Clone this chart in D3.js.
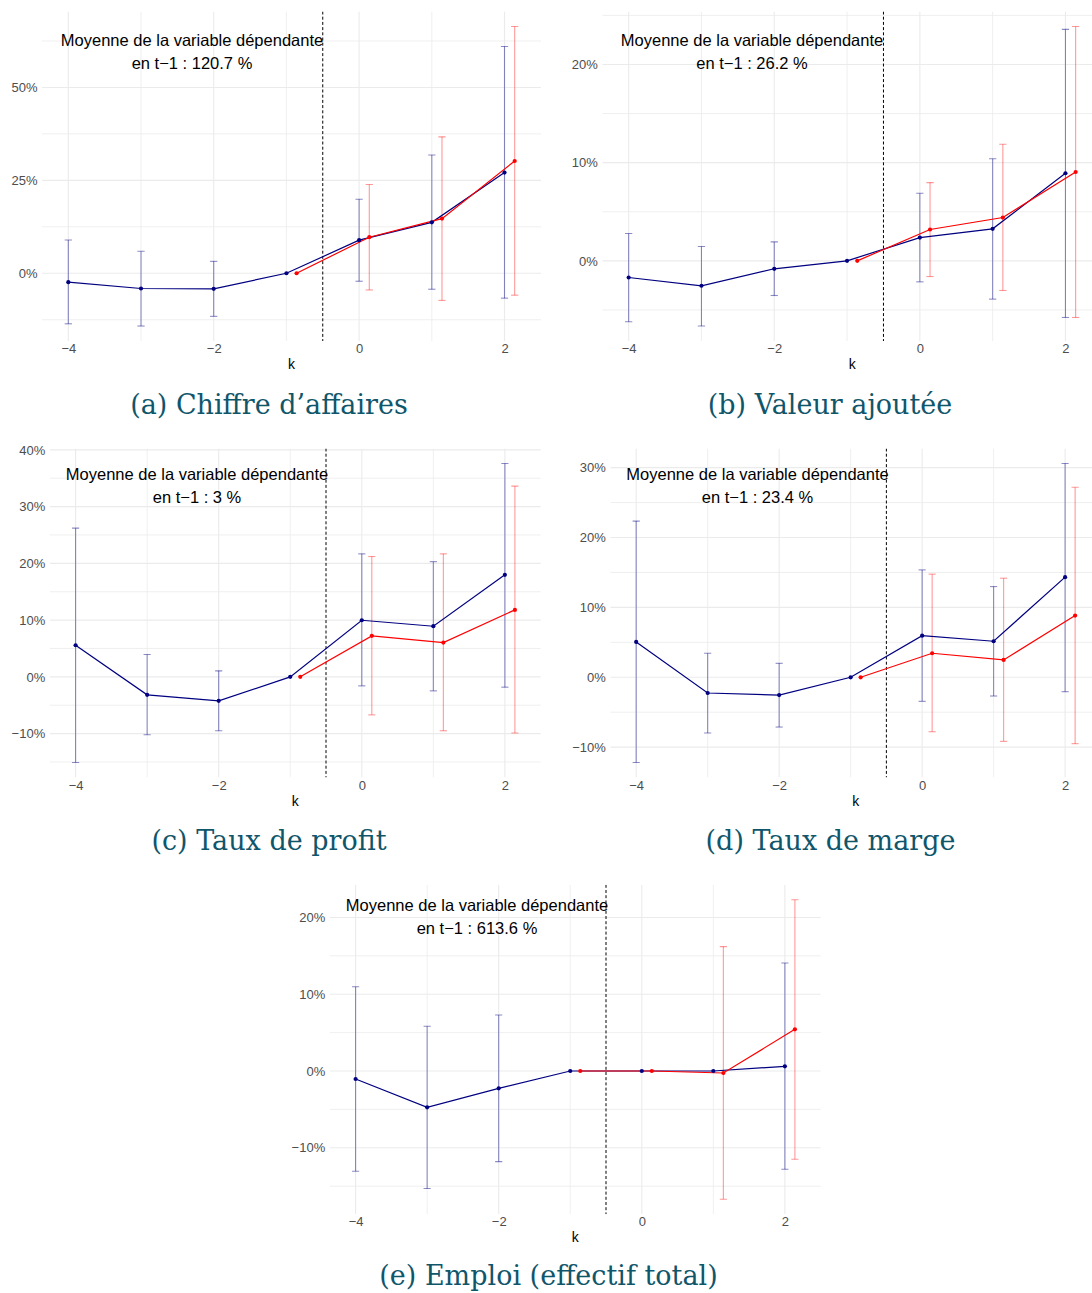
<!DOCTYPE html>
<html>
<head>
<meta charset="utf-8">
<script src="https://cdn.jsdelivr.net/npm/d3@7"></script>
<style>
  html, body { margin: 0; padding: 0; background: #ffffff; }
  svg { display: block; }
</style>
</head>
<body>
<svg id="chart" width="1092" height="1293"></svg>
<script>
// ---------------- DATA ----------------
const kBlue = [-4, -3, -2, -1, 0, 1, 2];
const kRed = [-1, 0, 1, 2];
const redOffset = 0.14;
const xTickValues = [-4, -2, 0, 2];

// (a) Chiffre d'affaires
const aBlue   = [-2.4, -4.1, -4.2, 0, 8.9, 13.7, 27.1];
const aBlueLo = [-13.6, -14.2, -11.6, null, -2.15, -4.3, -6.7];
const aBlueHi = [8.95, 5.9, 3.2, null, 19.9, 31.8, 61.0];
const aRed    = [0, 9.7, 14.7, 30.2];
const aRedLo  = [null, -4.5, -7.3, -5.9];
const aRedHi  = [null, 23.9, 36.7, 66.4];
const aYTicks = [0, 25, 50];

// (b) Valeur ajoutée
const bBlue   = [-1.7, -2.54, -0.81, 0, 2.37, 3.26, 8.92];
const bBlueLo = [-6.2, -6.64, -3.53, null, -2.14, -3.9, -5.77];
const bBlueHi = [2.78, 1.46, 1.93, null, 6.89, 10.4, 23.57];
const bRed    = [0, 3.19, 4.41, 9.05];
const bRedLo  = [null, -1.6, -3.02, -5.77];
const bRedHi  = [null, 7.97, 11.87, 23.87];
const bYTicks = [0, 10, 20];

// (c) Taux de profit
const cBlue   = [5.57, -3.17, -4.23, 0, 9.97, 8.92, 17.97];
const cBlueLo = [-15.1, -10.2, -9.5, null, -1.59, -2.47, -1.82];
const cBlueHi = [26.2, 3.93, 1.06, null, 21.67, 20.3, 37.6];
const cRed    = [0, 7.22, 6.04, 11.8];
const cRedLo  = [null, -6.7, -9.5, -9.9];
const cRedHi  = [null, 21.2, 21.67, 33.6];
const cYTicks = [-10, 0, 10, 20, 30, 40];

// (d) Taux de marge
const dBlue   = [5.06, -2.25, -2.54, 0, 5.96, 5.16, 14.33];
const dBlueLo = [-12.2, -7.98, -7.12, null, -3.44, -2.68, -2.06];
const dBlueHi = [22.35, 3.44, 2.0, null, 15.37, 12.98, 30.6];
const dRed    = [0, 3.44, 2.48, 8.83];
const dRedLo  = [null, -7.79, -9.17, -9.5];
const dRedHi  = [null, 14.76, 14.18, 27.2];
const dYTicks = [-10, 0, 10, 20, 30];

// (e) Emploi (effectif total)
const eBlue   = [-1.04, -4.73, -2.26, 0, 0, 0, 0.61];
const eBlueLo = [-13.06, -15.3, -11.8, null, null, null, -12.8];
const eBlueHi = [10.98, 5.82, 7.29, null, null, null, 14.06];
const eRed    = [0, 0, -0.26, 5.43];
const eRedLo  = [null, null, -16.7, -11.5];
const eRedHi  = [null, null, 16.2, 22.3];
const eYTicks = [-10, 0, 10, 20];

const captions = ["(a) Chiffre d\u2019affaires", "(b) Valeur ajout\u00e9e", "(c) Taux de profit",
                  "(d) Taux de marge", "(e) Emploi (effectif total)"];
const noteLine1 = "Moyenne de la variable d\u00e9pendante";
const noteMeans = ["120.7", "26.2", "3", "23.4", "613.6"];

// ---------------- LAYOUT ----------------
const layout = [
  {left: 42,    right: 541,  top: 11.5,  bottom: 341,    capX: 269,   capY: 414,  noteX: 192,   noteY: 40.5},
  {left: 602.3, right: 1102, top: 11.5,  bottom: 341,    capX: 830,   capY: 414,  noteX: 752,   noteY: 40.5},
  {left: 49.7,  right: 540.8,top: 448.5, bottom: 777.5,  capX: 269,   capY: 850,  noteX: 197,   noteY: 474},
  {left: 610.3, right: 1101, top: 448.5, bottom: 777.5,  capX: 830.5, capY: 850,  noteX: 757.5, noteY: 474},
  {left: 329.7, right: 820.8,top: 884.8, bottom: 1214.2, capX: 548.5, capY: 1285, noteX: 477,   noteY: 905}
];

const series = [
  {blue: aBlue, blueLo: aBlueLo, blueHi: aBlueHi, red: aRed, redLo: aRedLo, redHi: aRedHi, yTicks: aYTicks},
  {blue: bBlue, blueLo: bBlueLo, blueHi: bBlueHi, red: bRed, redLo: bRedLo, redHi: bRedHi, yTicks: bYTicks},
  {blue: cBlue, blueLo: cBlueLo, blueHi: cBlueHi, red: cRed, redLo: cRedLo, redHi: cRedHi, yTicks: cYTicks},
  {blue: dBlue, blueLo: dBlueLo, blueHi: dBlueHi, red: dRed, redLo: dRedLo, redHi: dRedHi, yTicks: dYTicks},
  {blue: eBlue, blueLo: eBlueLo, blueHi: eBlueHi, red: eRed, redLo: eRedLo, redHi: eRedHi, yTicks: eYTicks}
];

const BLUE = "#000080", RED = "#ff0000";
const GRID = "#ebebeb";
const SANS = "'Liberation Sans', Arial, Helvetica, sans-serif";
const capHalf = 0.05;
const minusFmt = v => (v < 0 ? "\u2212" + Math.abs(v) : String(v));

const svg = d3.select("#chart");

series.forEach((s, i) => {
  const L = layout[i];
  const g = svg.append("g");
  const clipId = "clip" + i;
  svg.append("defs").append("clipPath").attr("id", clipId)
    .append("rect").attr("x", L.left).attr("y", L.top)
    .attr("width", L.right - L.left).attr("height", L.bottom - L.top);

  // x scale: data range incl. errorbar caps, expanded 5%
  const xMin = d3.min(kBlue) - capHalf, xMax = d3.max(kRed) + redOffset + capHalf;
  const xPad = (xMax - xMin) * 0.05;
  const x = d3.scaleLinear().domain([xMin - xPad, xMax + xPad]).range([L.left, L.right]);

  const allVals = [].concat(s.blue, s.blueLo, s.blueHi, s.red, s.redLo, s.redHi).filter(v => v != null);
  const yMin = d3.min(allVals), yMax = d3.max(allVals);
  const yPad = (yMax - yMin) * 0.05;
  const y = d3.scaleLinear().domain([yMin - yPad, yMax + yPad]).range([L.bottom, L.top]);

  // minor y breaks between majors
  const step = s.yTicks[1] - s.yTicks[0];
  const yMinor = [];
  for (let v = s.yTicks[0] - step / 2; v <= y.domain()[1]; v += step) {
    if (v >= y.domain()[0]) yMinor.push(v);
  }
  const xMinor = kBlue.filter(v => !xTickValues.includes(v));

  const grid = g.append("g").attr("clip-path", `url(#${clipId})`);
  // minor grid
  grid.selectAll(".ymin").data(yMinor).enter().append("line")
    .attr("x1", L.left).attr("x2", L.right).attr("y1", d => y(d)).attr("y2", d => y(d))
    .attr("stroke", GRID).attr("stroke-width", 0.8);
  grid.selectAll(".xmin").data(xMinor).enter().append("line")
    .attr("y1", L.top).attr("y2", L.bottom).attr("x1", d => x(d)).attr("x2", d => x(d))
    .attr("stroke", GRID).attr("stroke-width", 0.8);
  // major grid
  grid.selectAll(".ymaj").data(s.yTicks).enter().append("line")
    .attr("x1", L.left).attr("x2", L.right).attr("y1", d => y(d)).attr("y2", d => y(d))
    .attr("stroke", GRID).attr("stroke-width", 1.1);
  grid.selectAll(".xmaj").data(xTickValues).enter().append("line")
    .attr("y1", L.top).attr("y2", L.bottom).attr("x1", d => x(d)).attr("x2", d => x(d))
    .attr("stroke", GRID).attr("stroke-width", 1.1);

  // axes (labels only)
  const yAxis = d3.axisLeft(y).tickValues(s.yTicks).tickSize(0).tickPadding(4.5)
    .tickFormat(d => minusFmt(d) + "%");
  const ya = g.append("g").attr("transform", `translate(${L.left},0)`).call(yAxis);
  ya.select(".domain").remove();
  ya.selectAll("text").attr("fill", "#4d4d4d").style("font-family", SANS).style("font-size", "13px");

  const xAxis = d3.axisBottom(x).tickValues(xTickValues).tickSize(0).tickPadding(3)
    .tickFormat(d => minusFmt(d));
  const xa = g.append("g").attr("transform", `translate(0,${L.bottom})`).call(xAxis);
  xa.select(".domain").remove();
  xa.selectAll("text").attr("fill", "#4d4d4d").style("font-family", SANS).style("font-size", "13px");

  g.append("text").attr("x", (L.left + L.right) / 2).attr("y", L.bottom + 28)
    .attr("text-anchor", "middle").attr("fill", "#000")
    .style("font-family", SANS).style("font-size", "14px").text("k");

  const plot = g.append("g").attr("clip-path", `url(#${clipId})`);

  // error bars
  const drawErr = (ks, off, lo, hi, color, op) => {
    const d = ks.map((k, j) => ({k: k + off, lo: lo[j], hi: hi[j]})).filter(e => e.lo != null);
    const eg = plot.append("g").attr("stroke", color).attr("stroke-opacity", op).attr("fill", "none").attr("stroke-width", 1.1);
    eg.selectAll(".v").data(d).enter().append("line")
      .attr("x1", e => x(e.k)).attr("x2", e => x(e.k)).attr("y1", e => y(e.lo)).attr("y2", e => y(e.hi));
    eg.selectAll(".t").data(d).enter().append("line")
      .attr("x1", e => x(e.k - capHalf)).attr("x2", e => x(e.k + capHalf)).attr("y1", e => y(e.hi)).attr("y2", e => y(e.hi));
    eg.selectAll(".b").data(d).enter().append("line")
      .attr("x1", e => x(e.k - capHalf)).attr("x2", e => x(e.k + capHalf)).attr("y1", e => y(e.lo)).attr("y2", e => y(e.lo));
  };
  drawErr(kBlue, 0, s.blueLo, s.blueHi, BLUE, 0.45);
  drawErr(kRed, redOffset, s.redLo, s.redHi, RED, 0.4);

  // vertical dashed reference line at -0.5
  plot.append("line").attr("x1", x(-0.5)).attr("x2", x(-0.5)).attr("y1", L.top).attr("y2", L.bottom)
    .attr("stroke", "#000").attr("stroke-width", 1).attr("stroke-dasharray", "3,2.2");

  // lines
  const line = d3.line().x(d => x(d[0])).y(d => y(d[1]));
  const bluePts = kBlue.map((k, j) => [k, s.blue[j]]);
  const redPts = kRed.map((k, j) => [k + redOffset, s.red[j]]);
  plot.append("path").datum(bluePts).attr("d", line).attr("fill", "none").attr("stroke", BLUE).attr("stroke-width", 1.2);
  plot.append("path").datum(redPts).attr("d", line).attr("fill", "none").attr("stroke", RED).attr("stroke-width", 1.2);

  // points
  plot.selectAll(".bp").data(bluePts).enter().append("circle")
    .attr("cx", d => x(d[0])).attr("cy", d => y(d[1])).attr("r", 2.1).attr("fill", BLUE);
  plot.selectAll(".rp").data(redPts).enter().append("circle")
    .attr("cx", d => x(d[0])).attr("cy", d => y(d[1])).attr("r", 2.1).attr("fill", RED);

  // annotation
  const note = g.append("text").attr("text-anchor", "middle").attr("fill", "#000")
    .style("font-family", SANS).style("font-size", "16.5px");
  note.append("tspan").attr("x", L.noteX).attr("y", L.noteY).attr("dy", "0.35em").text(noteLine1);
  note.append("tspan").attr("x", L.noteX).attr("y", L.noteY + 23).attr("dy", "0.35em")
    .text("en t\u22121 : " + noteMeans[i] + " %");

  // caption
  svg.append("text").attr("x", L.capX).attr("y", L.capY).attr("text-anchor", "middle")
    .attr("fill", "#10566b").style("font-family", "'DejaVu Serif', serif").style("font-size", "27px")
    .text(captions[i]);
});
</script>
</body>
</html>
